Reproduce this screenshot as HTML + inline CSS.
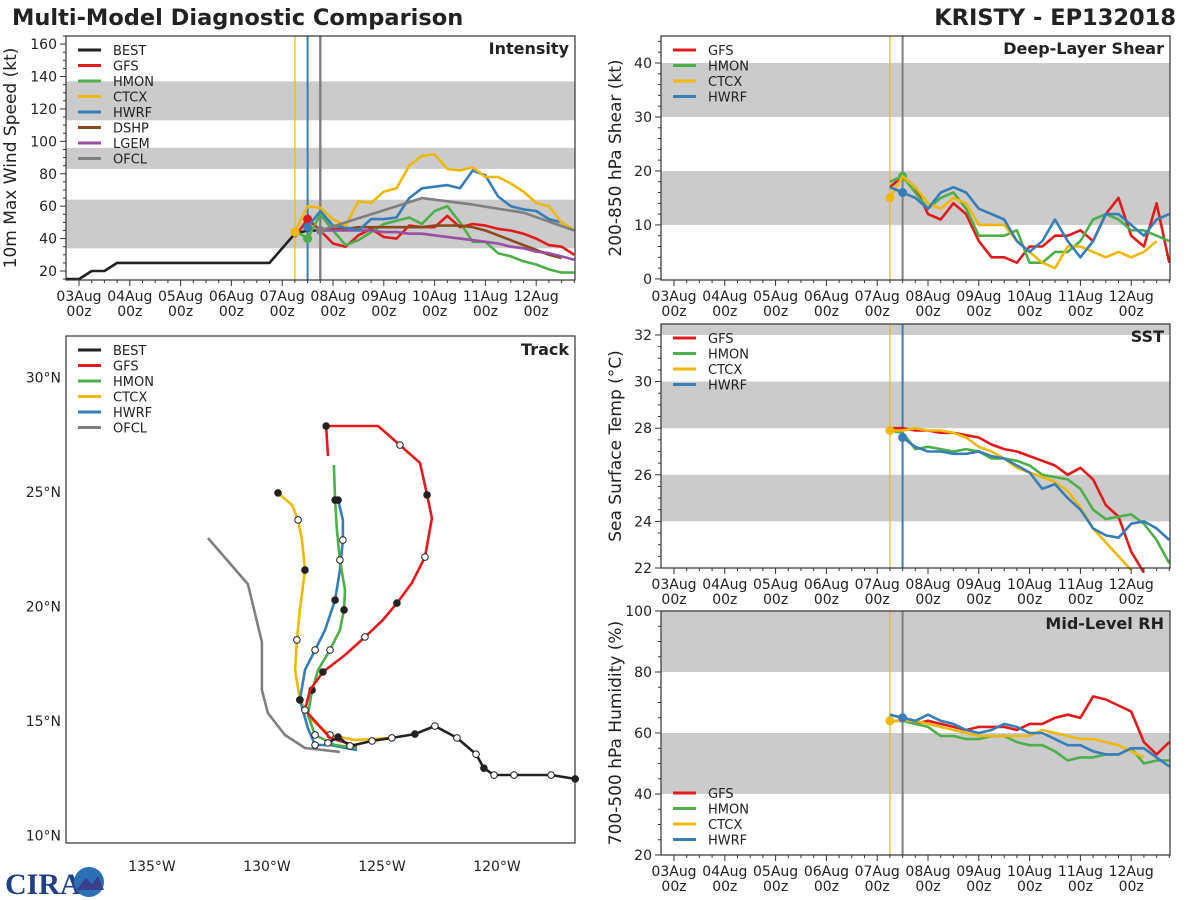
<!DOCTYPE html>
<html><head><meta charset="utf-8"><style>
html,body{margin:0;padding:0;background:#fff;}
svg{display:block;font-family:"DejaVu Sans","Liberation Sans",sans-serif;}
</style></head><body>
<svg id="chart" width="1200" height="900" viewBox="0 0 1200 900" xmlns="http://www.w3.org/2000/svg">
<text x="12" y="25" font-size="22.5" font-weight="bold" fill="#222">Multi-Model Diagnostic Comparison</text>
<text x="1176" y="25" font-size="22.5" font-weight="bold" fill="#222" text-anchor="end">KRISTY - EP132018</text>
<g>
<text x="5" y="894" font-size="30" font-weight="bold" fill="#1f3f86" font-family="Liberation Serif, serif">CIRA</text>
<circle cx="89" cy="882" r="15" fill="#2b6fb5"/>
<path d="M76 890 L86 878 L92 884 L98 876 L104 890 Z" fill="#3a3f8f"/>
</g>
</svg>
<script>
// ---------- DATA ----------
const dayLabels = ["03Aug","04Aug","05Aug","06Aug","07Aug","08Aug","09Aug","10Aug","11Aug","12Aug"];
const bestTimes = [-0.25,0,0.25,0.5,0.75,3.75,4.25,4.5,4.75];
const bestWind = [15,15,20,20,25,25,43,45,45];
const ctcxWind = [44,60,59,52,48,63,62,69,71,85,91,92,83,82,84,78,78,74,69,62,60,50,45];
const hwrfWind = [47,57,48,47,45,52,52,53,65,71,72,73,71,82,79,66,60,58,57,52,50,45];
const gfsWind = [41,52,45,37,35,42,46,41,40,48,47,47,54,47,49,48,46,45,43,40,36,35,30];
const hmonWind = [45,40,55,45,36,39,44,49,51,53,49,57,60,50,38,38,31,29,26,24,21,19,19];
const dshpWind = [45,46,46,47,47,47,47,47,47,48,48,48,47,45,42,39,36,33,30,28];
const lgemWind = [45,45,45,45,45,44,44,43,43,42,41,40,39,38,37,35,34,32,31,29,27];
const ofclTimes = [4.75,5.25,5.75,6.25,6.75,7.75,8.75,9.75];
const ofclWind = [45,50,55,60,65,61,56,45];

const gfsShear = [17,19,17,12,11,14,12,7,4,4,3,6,6,8,8,9,7,12,15,8,6,14,3];
const hmonShear = [18,19,16,13,15,16,13,8,8,8,9,3,3,5,5,7,11,12,11,9,9,8,7];
const ctcxShear = [15,19,17,14,13,15,14,10,10,10,7,5,3,2,6,6,5,4,5,4,5,7];
const hwrfShear = [17,16,15,13,16,17,16,13,12,11,7,5,7,11,7,4,7,12,12,10,8,11,12];

const gfsSst = [28,28,27.9,27.9,27.8,27.8,27.7,27.6,27.3,27.1,27.0,26.8,26.6,26.4,26.0,26.3,25.8,24.7,24.2,22.7,21.8];
const hmonSst = [27.9,27.8,27.1,27.2,27.1,27.0,27.1,27.0,26.7,26.7,26.6,26.4,26.0,25.9,25.8,25.4,24.5,24.1,24.2,24.3,23.9,23.2,22.2];
const ctcxSst = [27.9,27.9,28.0,27.9,27.9,27.8,27.6,27.2,27.0,26.7,26.3,26.1,25.9,25.7,25.3,24.6,23.7,23.1,22.5,21.9];
const hwrfSst = [27.6,27.2,27.0,27.0,26.9,26.9,27.0,26.8,26.7,26.4,26.1,25.4,25.6,25.0,24.5,23.7,23.4,23.3,23.9,24.0,23.7,23.2];

const gfsRh = [64,64,63,64,63,62,61,62,62,62,61,63,63,65,66,65,72,71,69,67,57,53,57];
const hmonRh = [64,64,63,62,59,59,58,58,59,59,57,56,56,54,51,52,52,53,53,55,50,51,51];
const ctcxRh = [64,64,64,63,62,61,60,59,59,59,59,59,61,60,59,58,58,57,56,54,52];
const hwrfRh = [66,65,64,66,64,63,61,60,61,63,62,60,60,58,56,56,54,53,53,55,55,52,49];

const bestLon = [-116.6,-117.65,-119.26,-120.13,-120.57,-120.91,-121.74,-122.70,-123.57,-124.57,-125.43,-126.39,-126.91,-127.35];
const bestLat = [12.47,12.64,12.64,12.64,12.94,13.55,14.26,14.78,14.43,14.26,14.13,13.91,14.30,14.04];
const gfsLon = [-126.09,-127.26,-128.35,-128.13,-127.57,-126.61,-125.74,-124.96,-124.35,-123.70,-123.13,-122.83,-123.04,-123.35,-124.22,-125.17,-127.43,-127.35];
const gfsLat = [13.91,14.26,15.48,16.35,17.14,17.88,18.67,19.41,20.15,21.03,22.16,23.86,24.87,26.27,27.05,27.88,27.88,26.57];
const hmonLon = [-126.09,-127.04,-127.91,-128.22,-128.04,-127.78,-127.26,-126.83,-126.65,-126.61,-126.83,-126.96,-127.04,-127.09];
const hmonLat = [13.82,13.95,14.39,15.26,16.35,17.23,18.10,18.97,19.85,20.72,22.03,23.34,24.65,26.18];
const hwrfLon = [-126.09,-127.26,-127.91,-128.22,-128.57,-128.35,-127.91,-127.48,-127.04,-126.83,-126.70,-126.70,-126.91];
const hwrfLat = [13.73,13.95,13.95,14.69,15.92,17.23,18.10,18.97,20.28,21.59,22.90,23.78,24.65];
const ctcxLon = [-124.57,-126.17,-127.26,-128.04,-128.57,-128.78,-128.70,-128.57,-128.35,-128.48,-128.65,-128.91,-129.52];
const ctcxLat = [14.26,14.17,14.39,15.04,15.92,17.23,18.54,19.85,21.59,22.90,23.78,24.43,24.96];
const ofclLon = [-126.83,-128.35,-129.22,-129.96,-130.22,-130.22,-130.83,-132.57];
const ofclLat = [13.65,13.82,14.39,15.35,16.35,18.45,20.98,22.99];

const C = {BEST:"#222",GFS:"#e31a1c",HMON:"#4daf4a",CTCX:"#f0b800",HWRF:"#377eb8",DSHP:"#8c4a1c",LGEM:"#984ea3",OFCL:"#7f7f7f"};

// ---------- HELPERS ----------
const svg = document.getElementById('chart');
const NS = "http://www.w3.org/2000/svg";
function mk(tag, attrs, name, parent) {
  const el = document.createElementNS(NS, tag);
  for (const k in attrs) el.setAttribute(k, attrs[k]);
  
  
  (parent || svg).appendChild(el);
  return el;
}
function txt(x, y, s, size, name, extra) {
  const t = mk('text', Object.assign({x: x, y: y, 'font-size': size, fill: '#222'}, extra || {}), name);
  t.textContent = s;
  return t;
}
function steps(start, n) { const a = []; for (let i = 0; i < n; i++) a.push(start + i * 0.25); return a; }

function panel(p) {
  const sx = d => p.x0 + (d - p.d0) / (p.d1 - p.d0) * (p.x1 - p.x0);
  const sy = v => p.y1 - (v - p.v0) / (p.v1 - p.v0) * (p.y1 - p.y0);
  const g = mk('g', {}, p.name + '-panel');
  mk('rect', {x: p.x0, y: p.y0, width: p.x1 - p.x0, height: p.y1 - p.y0, fill: '#fff'}, p.name + '-background', g);
  p.bands.forEach((b, i) => {
    const ya = sy(Math.min(b[1], p.v1)), yb = sy(Math.max(b[0], p.v0));
    mk('rect', {x: p.x0, y: ya, width: p.x1 - p.x0, height: yb - ya, fill: '#cbcbcb'}, p.name + '-band', g);
  });
  p.vlines.forEach(v => {
    mk('line', {x1: sx(v[0]), x2: sx(v[0]), y1: p.y0, y2: p.y1, stroke: v[1], 'stroke-width': v[2]}, p.name + '-init-line', g);
  });
  p.series.forEach(s => {
    const t = s.t || steps(s.start, s.v.length);
    const pts = s.v.map((v, i) => sx(t[i]).toFixed(1) + ',' + sy(Math.max(p.v0 - 0.5, v)).toFixed(1)).join(' ');
    mk('polyline', {points: pts, fill: 'none', stroke: C[s.k], 'stroke-width': 2.6, 'stroke-linejoin': 'round'}, p.name + '-' + s.k.toLowerCase() + '-line', g);
    if (s.dot) mk('circle', {cx: sx(t[s.dotI||0]), cy: sy(s.v[s.dotI||0]), r: 4.5, fill: C[s.k]}, p.name + '-' + s.k.toLowerCase() + '-start', g);
  });
  mk('rect', {x: p.x0, y: p.y0, width: p.x1 - p.x0, height: p.y1 - p.y0, fill: 'none', stroke: '#333', 'stroke-width': 1.2}, p.name + '-frame', g);
  for (let v = Math.ceil(p.v0 / p.minor) * p.minor; v <= p.v1; v += p.minor) {
    const major = Math.abs(v / p.major - Math.round(v / p.major)) < 1e-6;
    mk('line', {x1: p.x0 - (major ? 6 : 3), x2: p.x0, y1: sy(v), y2: sy(v), stroke: '#333', 'stroke-width': 1}, p.name + '-y-tick', g);
    if (major) txt(p.x0 - 9, sy(v) + 5, String(v), 14, p.name + '-y-tick-label', {'text-anchor': 'end'});
  }
  for (let d = 0; d <= p.d1; d += 0.25) {
    const major = d % 1 === 0;
    mk('line', {x1: sx(d), x2: sx(d), y1: p.y1, y2: p.y1 + (major ? 6 : 3), stroke: '#333', 'stroke-width': 1}, p.name + '-x-tick', g);
    if (major && d < dayLabels.length) {
      txt(sx(d), p.y1 + 21, dayLabels[d], 14, p.name + '-x-tick-label', {'text-anchor': 'middle'});
      txt(sx(d), p.y1 + 36, '00z', 14, p.name + '-x-tick-label', {'text-anchor': 'middle'});
    }
  }
  txt(p.x1 - 6, p.y0 + 18, p.title, 16, p.name + '-title', {'text-anchor': 'end', 'font-weight': 'bold'});
  const yc = (p.y0 + p.y1) / 2;
  txt(p.labelX, yc, p.ylabel, 17, p.name + '-y-axis-title', {'text-anchor': 'middle', transform: 'rotate(-90 ' + p.labelX + ' ' + yc + ')'});
  p.legend.forEach((k, i) => {
    const ly = p.y0 + 14 + i * 15.5;
    mk('line', {x1: p.x0 + 12, x2: p.x0 + 35, y1: ly, y2: ly, stroke: C[k], 'stroke-width': 3}, p.name + '-legend-swatch', g);
    txt(p.x0 + 47, ly + 5, k, 13, p.name + '-legend-entry');
  });
}

const dL0 = (66 - 79) / 50.8, dL1 = (575 - 79) / 50.8;

panel({name: 'intensity', x0: 66, x1: 575, y0: 36, y1: 280, d0: dL0, d1: dL1, v0: 14.45, v1: 165, major: 20, minor: 5,
  title: 'Intensity', ylabel: '10m Max Wind Speed (kt)', labelX: 16,
  bands: [[34, 64], [83, 96], [113, 137]],
  vlines: [[4.25, '#f0b800', 1.2], [4.5, '#377eb8', 2], [4.75, '#7f7f7f', 2.4]],
  legend: ['BEST','GFS','HMON','CTCX','HWRF','DSHP','LGEM','OFCL'],
  series: [
    {k: 'BEST', t: bestTimes, v: bestWind},
    {k: 'GFS', start: 4.25, v: gfsWind, dot: true, dotI: 1},
    {k: 'HMON', start: 4.25, v: hmonWind, dot: true, dotI: 1},
    {k: 'DSHP', start: 4.75, v: dshpWind},
    {k: 'LGEM', start: 4.75, v: lgemWind},
    {k: 'HWRF', start: 4.5, v: hwrfWind, dot: true},
    {k: 'CTCX', start: 4.25, v: ctcxWind, dot: true},
    {k: 'OFCL', t: ofclTimes, v: ofclWind, dot: true}
  ]});

const dR0 = (661 - 674) / 50.8, dR1 = (1170 - 674) / 50.8;
const rightLegend = ['GFS','HMON','CTCX','HWRF'];
panel({name: 'shear', x0: 661, x1: 1170, y0: 36, y1: 280, d0: dR0, d1: dR1, v0: -0.2, v1: 45, major: 10, minor: 2,
  title: 'Deep-Layer Shear', ylabel: '200-850 hPa Shear (kt)', labelX: 621,
  bands: [[10, 20], [30, 40]], vlines: [[4.25, '#f0b800', 1.2], [4.5, '#7f7f7f', 2]], legend: rightLegend,
  series: [
    {k: 'GFS', start: 4.25, v: gfsShear}, {k: 'HMON', start: 4.25, v: hmonShear, dot: true, dotI: 1},
    {k: 'CTCX', start: 4.25, v: ctcxShear, dot: true}, {k: 'HWRF', start: 4.25, v: hwrfShear, dot: true, dotI: 1}
  ]});
panel({name: 'sst', x0: 661, x1: 1170, y0: 324, y1: 568, d0: dR0, d1: dR1, v0: 22, v1: 32.47, major: 2, minor: 0.5,
  title: 'SST', ylabel: 'Sea Surface Temp (°C)', labelX: 621,
  bands: [[24, 26], [28, 30], [32, 33]], vlines: [[4.25, '#f0b800', 1.2], [4.5, '#377eb8', 2]], legend: rightLegend,
  series: [
    {k: 'GFS', start: 4.25, v: gfsSst}, {k: 'HMON', start: 4.25, v: hmonSst},
    {k: 'CTCX', start: 4.25, v: ctcxSst, dot: true}, {k: 'HWRF', start: 4.5, v: hwrfSst, dot: true}
  ]});
panel({name: 'rh', x0: 661, x1: 1170, y0: 611, y1: 855, d0: dR0, d1: dR1, v0: 20, v1: 100, major: 20, minor: 5,
  title: 'Mid-Level RH', ylabel: '700-500 hPa Humidity (%)', labelX: 621,
  bands: [[40, 60], [80, 100]], vlines: [[4.25, '#f0b800', 1.2], [4.5, '#7f7f7f', 2]], legend: [],
  series: [
    {k: 'GFS', start: 4.25, v: gfsRh}, {k: 'HMON', start: 4.25, v: hmonRh},
    {k: 'CTCX', start: 4.25, v: ctcxRh, dot: true}, {k: 'HWRF', start: 4.25, v: hwrfRh, dot: true, dotI: 1}
  ]});
rightLegend.forEach((k, i) => {
  const ly = 793 + i * 15.5;
  const sw = mk('line', {x1: 673, x2: 696, y1: ly, y2: ly, stroke: C[k], 'stroke-width': 3}, 'rh-legend-swatch');
  txt(708, ly + 5, k, 13, 'rh-legend-entry');
});

// ---------- TRACK ----------
const tx = lon => 382 + (lon + 125) * 23;
const ty = lat => 721 - (lat - 15) * 22.9;
const tg = mk('g', {}, 'track-panel');
mk('rect', {x: 66, y: 336, width: 509, height: 507, fill: '#fff', stroke: '#333', 'stroke-width': 1.2}, 'track-frame', tg);
const lonTicks = [-135, -130, -125, -120];
const latTicks = [10, 15, 20, 25, 30];
lonTicks.forEach(l => txt(tx(l), 871, (-l) + '°W', 14, 'track-lon-label', {'text-anchor': 'middle'}));
latTicks.forEach(l => txt(61, ty(l) + 5, l + '°N', 14, 'track-lat-label', {'text-anchor': 'end'}));
const tracks = [
  ['OFCL', ofclLon, ofclLat, false],
  ['CTCX', ctcxLon, ctcxLat, true],
  ['HWRF', hwrfLon, hwrfLat, true],
  ['HMON', hmonLon, hmonLat, true],
  ['GFS', gfsLon, gfsLat, true],
  ['BEST', bestLon, bestLat, true]
];
tracks.forEach(tr => {
  const pts = tr[1].map((lo, i) => tx(lo).toFixed(1) + ',' + ty(tr[2][i]).toFixed(1)).join(' ');
  mk('polyline', {points: pts, fill: 'none', stroke: C[tr[0]], 'stroke-width': 2.6, 'stroke-linejoin': 'round'}, 'track-' + tr[0].toLowerCase() + '-line', tg);
  if (tr[3]) tr[1].forEach((lo, i) => {
    if (i % 2 === 0 && i > 0 || tr[0] === 'BEST') {
      const filled = (i / 2) % 2 === 0;
      mk('circle', {cx: tx(lo), cy: ty(tr[2][i]), r: 3.3, fill: filled ? '#222' : '#fff', stroke: '#222', 'stroke-width': 1}, 'track-' + tr[0].toLowerCase() + '-marker', tg);
    }
  });
});
['BEST','GFS','HMON','CTCX','HWRF','OFCL'].forEach((k, i) => {
  const ly = 350 + i * 15.5;
  mk('line', {x1: 78, x2: 101, y1: ly, y2: ly, stroke: C[k], 'stroke-width': 3}, 'track-legend-swatch', tg);
  txt(113, ly + 5, k, 13, 'track-legend-entry');
});
txt(569, 355, 'Track', 16, 'track-title', {'text-anchor': 'end', 'font-weight': 'bold'});
</script>
</body></html>
